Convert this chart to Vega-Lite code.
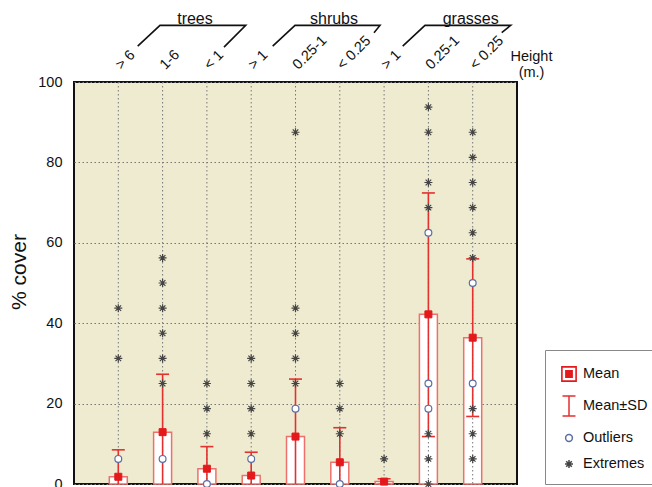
{
  "$schema": "https://vega.github.io/schema/vega-lite/v6.json",
  "width": 443,
  "height": 402,
  "autosize": {"type": "none"},
  "padding": {"left": 74, "top": 82, "right": 135, "bottom": 3},
  "background": "white",
  "config": {
    "font": "Liberation Sans",
    "view": {"fill": "#efebd0", "stroke": "#111111", "strokeWidth": 2},
    "axis": {"labelFont": "Liberation Sans", "titleFont": "Liberation Sans", "labelColor": "#111111", "titleColor": "#111111"},
    "text": {"font": "Liberation Sans"}
  },
  "datasets": {
    "stats": [
      {"cat": "trees|> 6", "mean": 1.8, "lo": -4.9, "hi": 8.5},
      {"cat": "trees|1-6", "mean": 12.9, "lo": -1.5, "hi": 27.3},
      {"cat": "trees|< 1", "mean": 3.8, "lo": -1.7, "hi": 9.3},
      {"cat": "shrubs|> 1", "mean": 2.1, "lo": -3.7, "hi": 7.9},
      {"cat": "shrubs|0.25-1", "mean": 11.8, "lo": -2.5, "hi": 26.1},
      {"cat": "shrubs|< 0.25", "mean": 5.4, "lo": -3.2, "hi": 14.0},
      {"cat": "grasses|> 1", "mean": 0.6, "lo": -0.1, "hi": 1.3},
      {"cat": "grasses|0.25-1", "mean": 42.2, "lo": 11.8, "hi": 72.4},
      {"cat": "grasses|< 0.25", "mean": 36.4, "lo": 16.8, "hi": 56.0}
    ],
    "points": [
      {"cat": "trees|> 6", "type": "Outliers", "value": 6.25},
      {"cat": "trees|> 6", "type": "Extremes", "value": 31.25},
      {"cat": "trees|> 6", "type": "Extremes", "value": 43.75},
      {"cat": "trees|1-6", "type": "Outliers", "value": 6.25},
      {"cat": "trees|1-6", "type": "Extremes", "value": 25},
      {"cat": "trees|1-6", "type": "Extremes", "value": 31.25},
      {"cat": "trees|1-6", "type": "Extremes", "value": 37.5},
      {"cat": "trees|1-6", "type": "Extremes", "value": 43.75},
      {"cat": "trees|1-6", "type": "Extremes", "value": 50},
      {"cat": "trees|1-6", "type": "Extremes", "value": 56.25},
      {"cat": "trees|< 1", "type": "Outliers", "value": 0},
      {"cat": "trees|< 1", "type": "Extremes", "value": 12.5},
      {"cat": "trees|< 1", "type": "Extremes", "value": 18.75},
      {"cat": "trees|< 1", "type": "Extremes", "value": 25},
      {"cat": "shrubs|> 1", "type": "Outliers", "value": 6.25},
      {"cat": "shrubs|> 1", "type": "Extremes", "value": 12.5},
      {"cat": "shrubs|> 1", "type": "Extremes", "value": 18.75},
      {"cat": "shrubs|> 1", "type": "Extremes", "value": 25},
      {"cat": "shrubs|> 1", "type": "Extremes", "value": 31.25},
      {"cat": "shrubs|0.25-1", "type": "Outliers", "value": 18.75},
      {"cat": "shrubs|0.25-1", "type": "Extremes", "value": 25},
      {"cat": "shrubs|0.25-1", "type": "Extremes", "value": 31.25},
      {"cat": "shrubs|0.25-1", "type": "Extremes", "value": 37.5},
      {"cat": "shrubs|0.25-1", "type": "Extremes", "value": 43.75},
      {"cat": "shrubs|0.25-1", "type": "Extremes", "value": 87.5},
      {"cat": "shrubs|< 0.25", "type": "Outliers", "value": 0},
      {"cat": "shrubs|< 0.25", "type": "Extremes", "value": 12.5},
      {"cat": "shrubs|< 0.25", "type": "Extremes", "value": 18.75},
      {"cat": "shrubs|< 0.25", "type": "Extremes", "value": 25},
      {"cat": "grasses|> 1", "type": "Extremes", "value": 6.25},
      {"cat": "grasses|0.25-1", "type": "Outliers", "value": 18.75},
      {"cat": "grasses|0.25-1", "type": "Outliers", "value": 25},
      {"cat": "grasses|0.25-1", "type": "Outliers", "value": 62.5},
      {"cat": "grasses|0.25-1", "type": "Extremes", "value": 0},
      {"cat": "grasses|0.25-1", "type": "Extremes", "value": 6.25},
      {"cat": "grasses|0.25-1", "type": "Extremes", "value": 12.5},
      {"cat": "grasses|0.25-1", "type": "Extremes", "value": 68.75},
      {"cat": "grasses|0.25-1", "type": "Extremes", "value": 75},
      {"cat": "grasses|0.25-1", "type": "Extremes", "value": 87.5},
      {"cat": "grasses|0.25-1", "type": "Extremes", "value": 93.75},
      {"cat": "grasses|< 0.25", "type": "Outliers", "value": 25},
      {"cat": "grasses|< 0.25", "type": "Outliers", "value": 50},
      {"cat": "grasses|< 0.25", "type": "Extremes", "value": 6.25},
      {"cat": "grasses|< 0.25", "type": "Extremes", "value": 12.5},
      {"cat": "grasses|< 0.25", "type": "Extremes", "value": 18.75},
      {"cat": "grasses|< 0.25", "type": "Extremes", "value": 56.25},
      {"cat": "grasses|< 0.25", "type": "Extremes", "value": 62.5},
      {"cat": "grasses|< 0.25", "type": "Extremes", "value": 68.75},
      {"cat": "grasses|< 0.25", "type": "Extremes", "value": 75},
      {"cat": "grasses|< 0.25", "type": "Extremes", "value": 81.25},
      {"cat": "grasses|< 0.25", "type": "Extremes", "value": 87.5}
    ],
    "brackets": [
      {"group": "trees", "ord": 1, "pos": 1.438, "level": 108.94},
      {"group": "trees", "ord": 2, "pos": 1.941, "level": 114.08},
      {"group": "trees", "ord": 3, "pos": 3.876, "level": 114.08},
      {"group": "trees", "ord": 4, "pos": 3.386, "level": 108.69},
      {"group": "shrubs", "ord": 1, "pos": 4.485, "level": 108.94},
      {"group": "shrubs", "ord": 2, "pos": 4.989, "level": 114.08},
      {"group": "shrubs", "ord": 3, "pos": 6.907, "level": 114.08},
      {"group": "shrubs", "ord": 4, "pos": 6.772, "level": 112.27},
      {"group": "grasses", "ord": 1, "pos": 7.42, "level": 108.94},
      {"group": "grasses", "ord": 2, "pos": 7.923, "level": 114.08},
      {"group": "grasses", "ord": 3, "pos": 9.858, "level": 114.08},
      {"group": "grasses", "ord": 4, "pos": 9.655, "level": 112.27}
    ],
    "groups": [
      {"group": "trees", "pos": 2.731, "level": 114.5},
      {"group": "shrubs", "pos": 5.869, "level": 114.5},
      {"group": "grasses", "pos": 8.955, "level": 114.5}
    ]
  },
  "layer": [
    {
      "layer": [
        {
          "data": {"name": "stats"},
          "mark": {"type": "bar", "fill": "white", "stroke": "#ee706b", "strokeWidth": 1.5},
          "encoding": {
            "x": {
              "field": "cat", "type": "nominal",
              "scale": {"type": "band", "paddingInner": 0.594, "paddingOuter": 0.797,
                "domain": ["trees|> 6", "trees|1-6", "trees|< 1", "shrubs|> 1", "shrubs|0.25-1", "shrubs|< 0.25", "grasses|> 1", "grasses|0.25-1", "grasses|< 0.25"]},
              "axis": {
                "orient": "top", "ticks": false, "tickSize": 0, "domain": false, "grid": false,
                "labelAngle": 315, "labelAlign": "left", "labelBaseline": "middle",
                "labelPadding": 15, "labelFontSize": 14.5, "labelOverlap": false,
                "labelExpr": "split(datum.value, '|')[1]",
                "title": ["Height", "(m.)"], "titleFontSize": 14.5, "titleFontWeight": "normal",
                "titleX": 457, "titleY": -33, "titleAlign": "center", "titleBaseline": "top",
                "titleAngle": 0, "titleLineHeight": 16
              }
            },
            "y": {
              "field": "mean", "type": "quantitative",
              "scale": {"domain": [0, 100], "nice": false, "zero": true},
              "title": "% cover",
              "axis": {
                "orient": "left", "values": [0, 20, 40, 60, 80, 100], "ticks": false, "tickSize": 0,
                "domain": false, "grid": true, "gridColor": "#777777", "gridDash": [1.5, 2.5], "gridWidth": 1,
                "labelFontSize": 14.5, "labelPadding": 12, "labelFlush": false,
                "titleFontSize": 21, "titleFontWeight": "normal", "titleX": -55, "titleY": 189.5,
                "titleAngle": 270, "titleAlign": "center", "titleBaseline": "middle"
              }
            }
          }
        },
        {
          "data": {"name": "stats"},
          "mark": {"type": "rule", "stroke": "#777777", "strokeDash": [1.5, 2.5], "strokeWidth": 1},
          "encoding": {
            "x": {"field": "cat", "type": "nominal"}
          }
        },
        {
          "data": {"name": "stats"},
          "mark": {"type": "rule", "stroke": "#e3312f", "strokeWidth": 1.6, "clip": true},
          "encoding": {
            "x": {"field": "cat", "type": "nominal"},
            "y": {"field": "lo", "type": "quantitative", "scale": {"domain": [0, 100]}, "title": "% cover"},
            "y2": {"field": "hi"}
          }
        },
        {
          "data": {"name": "stats"},
          "mark": {"type": "point", "shape": "M-1,0H1", "size": 169, "stroke": "#e3312f", "strokeWidth": 1.6, "filled": false, "opacity": 1, "clip": true},
          "encoding": {
            "x": {"field": "cat", "type": "nominal"},
            "y": {"field": "hi", "type": "quantitative", "scale": {"domain": [0, 100]}, "title": "% cover"}
          }
        },
        {
          "data": {"name": "stats"},
          "mark": {"type": "point", "shape": "M-1,0H1", "size": 169, "stroke": "#e3312f", "strokeWidth": 1.6, "filled": false, "opacity": 1, "clip": true},
          "encoding": {
            "x": {"field": "cat", "type": "nominal"},
            "y": {"field": "lo", "type": "quantitative", "scale": {"domain": [0, 100]}, "title": "% cover"}
          }
        },
        {
          "data": {"name": "stats"},
          "mark": {"type": "point", "shape": "square", "size": 49, "fill": "#e3191c", "stroke": "#e3191c", "strokeWidth": 1, "filled": true, "opacity": 1},
          "encoding": {
            "x": {"field": "cat", "type": "nominal"},
            "y": {"field": "mean", "type": "quantitative", "scale": {"domain": [0, 100]}, "title": "% cover"}
          }
        },
        {
          "data": {"name": "points"},
          "mark": {"type": "point", "strokeWidth": 1.2, "opacity": 1, "filled": true, "size": 400},
          "encoding": {
            "x": {"field": "cat", "type": "nominal"},
            "y": {"field": "value", "type": "quantitative", "scale": {"domain": [0, 100]}, "title": "% cover"},
            "shape": {
              "field": "type", "type": "nominal",
              "scale": {"domain": ["Mean", "Mean±SD", "Outliers", "Extremes"],
                "range": [
                  "M-0.79,-0.79H0.79V0.79H-0.79Z M-0.63,-0.63V0.63H0.63V-0.63Z M-0.39,-0.39H0.39V0.39H-0.39Z",
                  "M-0.65,-1H0.65M0,-1V1M-0.65,1H0.65",
                  "M0.34,0A0.34,0.34 0 1,1 -0.34,0A0.34,0.34 0 1,1 0.34,0Z",
                  "M-0.4,0H0.4M0,-0.4V0.4M-0.28,-0.28L0.28,0.28M-0.28,0.28L0.28,-0.28"
                ]},
              "legend": {
                "title": null, "orient": "none", "legendX": 471, "legendY": 268,
                "labelFontSize": 14.5, "labelFont": "Liberation Sans", "labelColor": "#111111",
                "strokeColor": "#888888", "fillColor": "white", "padding": 13, "rowPadding": 8,
                "symbolSize": 400, "symbolStrokeWidth": 1.5, "labelOffset": 3
              }
            },
            "fill": {
              "field": "type", "type": "nominal",
              "scale": {"domain": ["Mean", "Mean±SD", "Outliers", "Extremes"], "range": ["#e3191c", "transparent", "white", "transparent"]},
              "legend": {"title": null}
            },
            "stroke": {
              "field": "type", "type": "nominal",
              "scale": {"domain": ["Mean", "Mean±SD", "Outliers", "Extremes"], "range": ["transparent", "#e3312f", "#5b6fa3", "#444444"]},
              "legend": {"title": null}
            }
          }
        }
      ]
    },
    {
      "layer": [
        {
          "data": {"name": "brackets"},
          "mark": {"type": "line", "stroke": "#111111", "strokeWidth": 1.6, "clip": false},
          "encoding": {
            "x": {"field": "pos", "type": "quantitative", "scale": {"domain": [0, 10], "nice": false, "zero": false}, "axis": null},
            "y": {"field": "level", "type": "quantitative", "scale": {"domain": [0, 100]}, "title": "% cover"},
            "detail": {"field": "group", "type": "nominal"},
            "order": {"field": "ord", "type": "quantitative"}
          }
        },
        {
          "data": {"name": "groups"},
          "mark": {"type": "text", "fontSize": 16, "align": "center", "baseline": "alphabetic", "color": "#111111", "clip": false},
          "encoding": {
            "x": {"field": "pos", "type": "quantitative", "scale": {"domain": [0, 10], "nice": false, "zero": false}, "axis": null},
            "y": {"field": "level", "type": "quantitative", "scale": {"domain": [0, 100]}, "title": "% cover"},
            "text": {"field": "group", "type": "nominal"}
          }
        }
      ]
    }
  ],
  "resolve": {"scale": {"x": "independent"}, "axis": {"x": "independent"}}
}
